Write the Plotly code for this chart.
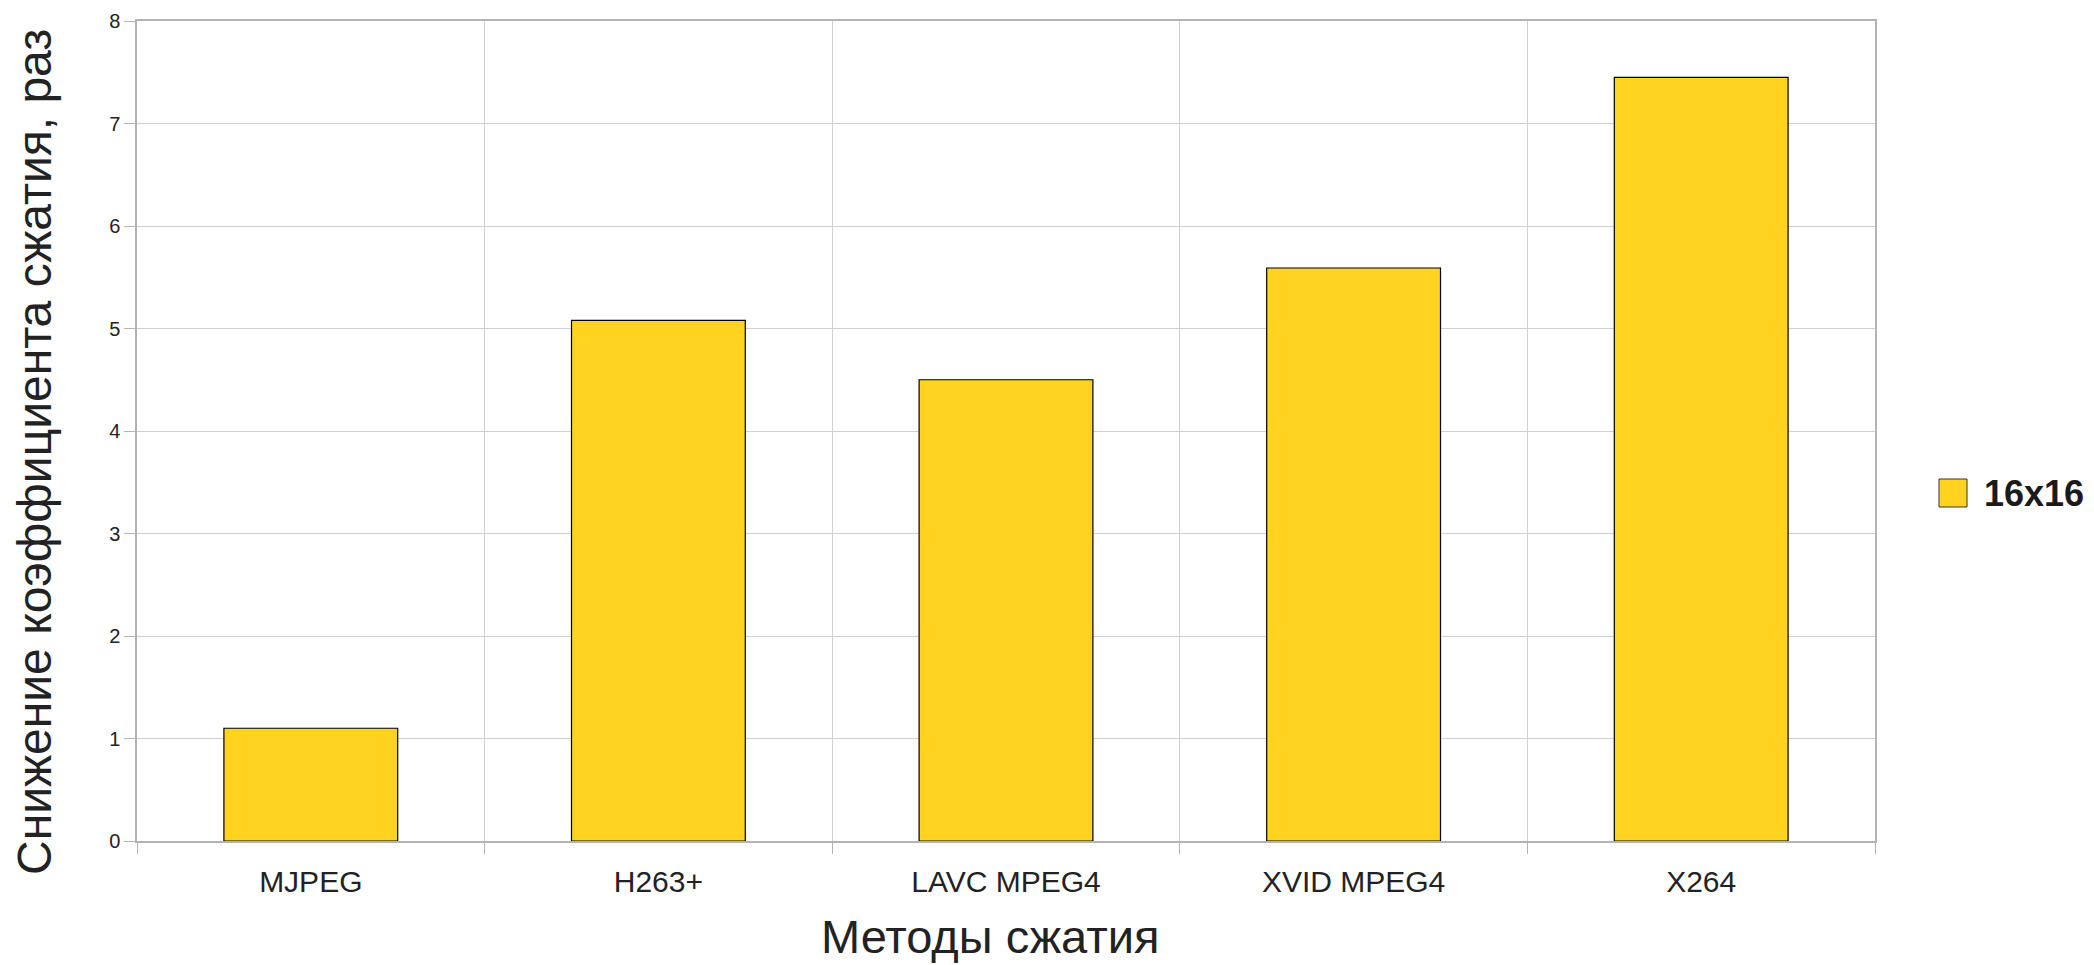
import plotly.graph_objects as go

# Compression methods and the drop in compression ratio for 16x16 blocks
methods = ["MJPEG", "H263+", "LAVC MPEG4", "XVID MPEG4", "X264"]
reduction_16x16 = [1.1, 5.08, 4.5, 5.59, 7.45]
series_name = "16x16"

y_ticks = [0, 1, 2, 3, 4, 5, 6, 7, 8]

BAR_COLOR = "#FFD320"
GRID = "#d0d0d0"
FRAME = "#b3b3b3"
FONT = "Liberation Sans, Arial, sans-serif"

fig = go.Figure()
fig.add_trace(go.Bar(
    x=methods,
    y=reduction_16x16,
    name=series_name,
    marker=dict(color=BAR_COLOR, line=dict(color="#000000", width=1.2)),
    showlegend=False,
))

fig.update_layout(
    width=2094,
    height=965,
    margin=dict(l=137, r=219, t=21, b=124, autoexpand=False),
    paper_bgcolor="white",
    plot_bgcolor="white",
    bargap=0.5,
    font=dict(family=FONT, color="#222222"),
    xaxis=dict(
        type="category",
        tickson="boundaries",
        ticks="outside",
        ticklen=11,
        tickcolor=FRAME,
        showgrid=True,
        gridcolor=GRID,
        gridwidth=1,
        showline=True,
        linecolor=FRAME,
        linewidth=1.5,
        mirror=True,
        ticklabelstandoff=13,
        tickfont=dict(size=30, color="#222222"),
        automargin=False,
    ),
    yaxis=dict(
        range=[0, 8],
        tickvals=y_ticks,
        ticks="outside",
        ticklen=11,
        tickcolor=FRAME,
        showgrid=True,
        gridcolor=GRID,
        gridwidth=1,
        zeroline=False,
        showline=True,
        linecolor=FRAME,
        linewidth=1.5,
        mirror=True,
        tickfont=dict(size=20, color="#222222"),
        automargin=False,
    ),
)

# Horizontal axis title, under the category labels
fig.add_annotation(
    xref="paper", yref="paper",
    x=0.5, y=0.0, xshift=-16, yshift=-95,
    xanchor="center", yanchor="middle",
    text="Методы сжатия",
    showarrow=False,
    font=dict(size=47, color="#222222", family=FONT),
)

# Vertical axis title, placed a little below the plot's middle
fig.add_annotation(
    xref="paper", yref="paper",
    x=0.0, y=0.5, xshift=-103, yshift=-21,
    xanchor="center", yanchor="middle",
    textangle=-90,
    text="Снижение коэффициента сжатия, раз",
    showarrow=False,
    font=dict(size=48, color="#222222", family=FONT),
)

# Legend entry drawn beside the plot: swatch plus bold series label
legend_y = (841 - 493) / 820
fig.add_shape(
    type="rect", xref="paper", yref="paper",
    xsizemode="pixel", ysizemode="pixel",
    xanchor=1.0, yanchor=legend_y,
    x0=64, x1=92, y0=-14, y1=14,
    fillcolor=BAR_COLOR, line=dict(color="#333333", width=1),
)
fig.add_annotation(
    xref="paper", yref="paper",
    x=1.0, y=legend_y,
    xshift=107, xanchor="left", yanchor="middle",
    text="<b>16x16</b>", showarrow=False,
    font=dict(size=36, color="#1a1a1a", family=FONT),
)

fig.write_html("out.html")
